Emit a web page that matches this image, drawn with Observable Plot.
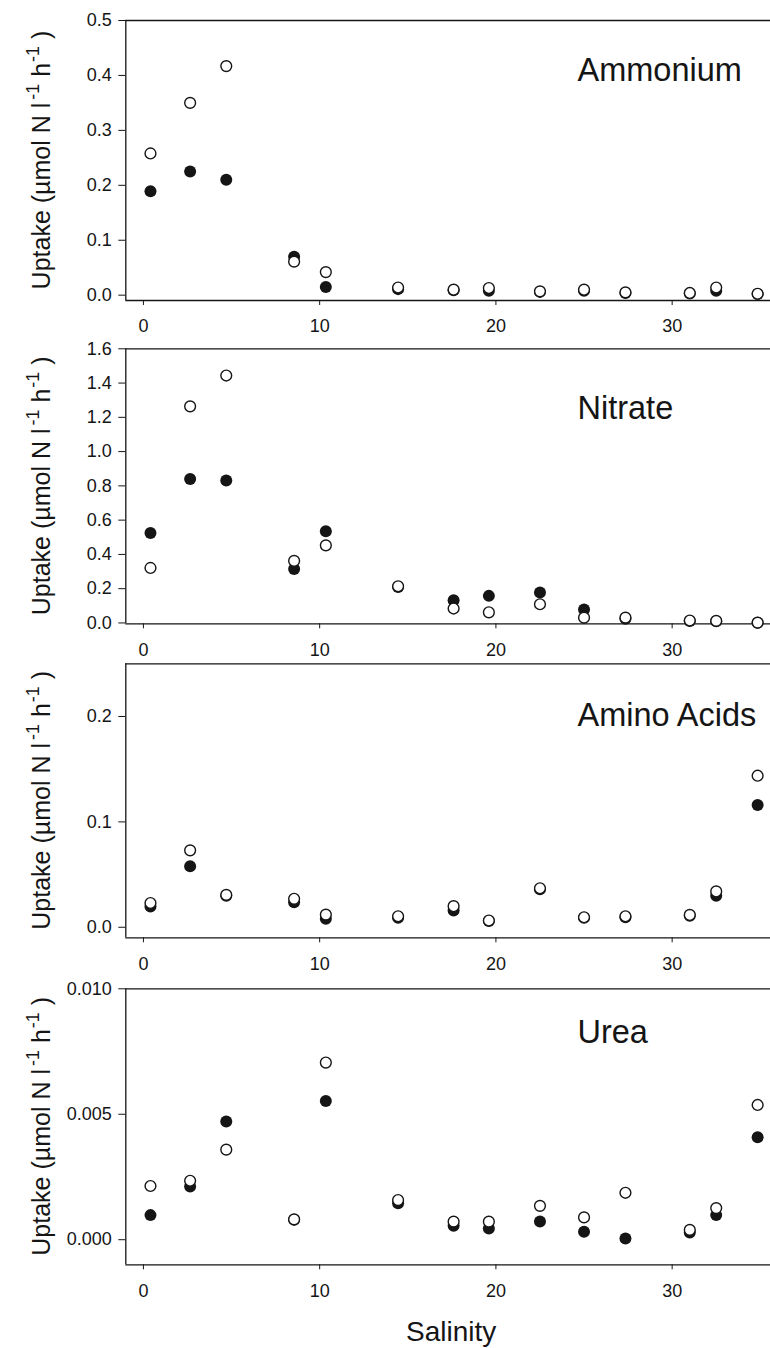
<!DOCTYPE html>
<html>
<head>
<meta charset="utf-8">
<script src="https://cdn.jsdelivr.net/npm/d3@7"></script>
<script src="https://cdn.jsdelivr.net/npm/@observablehq/plot@0.6"></script>
<style>
  body { margin: 0; background: #fff; }
  #chart { width: 770px; height: 1348px; position: relative; overflow: hidden; }
  #chart svg { display: block; }
</style>
</head>
<body>
<div id="chart"></div>
<script>
// ---- data ----
const salinity = [0.4, 2.65, 4.7, 8.55, 10.35, 14.45, 17.6, 19.6, 22.5, 25.0, 27.35, 31.0, 32.5, 34.85];

const ammoniumFilled = [0.189, 0.225, 0.210, 0.070, 0.015, 0.011, 0.009, 0.008, 0.006, 0.008, 0.004, 0.003, 0.008, 0.002];
const ammoniumOpen   = [0.258, 0.350, 0.417, 0.061, 0.042, 0.014, 0.010, 0.013, 0.007, 0.010, 0.005, 0.004, 0.014, 0.0025];

const nitrateFilled = [0.525, 0.840, 0.832, 0.315, 0.535, 0.210, 0.132, 0.158, 0.177, 0.078, 0.025, 0.012, 0.010, 0.001];
const nitrateOpen   = [0.321, 1.264, 1.444, 0.362, 0.453, 0.214, 0.084, 0.062, 0.109, 0.031, 0.031, 0.014, 0.012, 0.002];

const aminoFilled = [0.0196, 0.058, 0.030, 0.0237, 0.008, 0.009, 0.016, 0.006, 0.036, 0.009, 0.0095, 0.011, 0.030, 0.116];
const aminoOpen   = [0.023, 0.073, 0.0307, 0.027, 0.012, 0.0104, 0.020, 0.0064, 0.037, 0.0095, 0.0104, 0.0117, 0.034, 0.1438];

const ureaFilled = [0.00098, 0.00212, 0.00471, 0.0008, 0.00553, 0.00145, 0.00056, 0.00045, 0.00073, 0.00032, 0.00005, 0.00029, 0.00098, 0.00408];
const ureaOpen   = [0.00214, 0.00235, 0.00359, 0.00081, 0.00706, 0.00158, 0.00072, 0.00072, 0.00135, 0.00089, 0.00187, 0.00039, 0.00126, 0.00537];

const panelTitles = ["Ammonium", "Nitrate", "Amino Acids", "Urea"];
const xTicks = [0, 10, 20, 30];
const yTicksAmmonium = [0, 0.1, 0.2, 0.3, 0.4, 0.5];
const yTicksNitrate = [0, 0.2, 0.4, 0.6, 0.8, 1.0, 1.2, 1.4, 1.6];
const yTicksAmino = [0, 0.1, 0.2];
const yTicksUrea = [0, 0.005, 0.010];
const xLabel = "Salinity";

// ---- layout ----
const FONT = "'Liberation Sans', Arial, Helvetica, sans-serif";
const INK = "#151515";
const W = 770;
const xDomain = [-1, 35.58];
const TICK_FONT = 18;

const panels = [
  {title: panelTitles[0], filled: ammoniumFilled, open: ammoniumOpen, yDomain: [-0.0097, 0.5], yTicks: yTicksAmmonium, fmt: ".1f",
   height: 340, mt: 20, mb: 40, titleBase: 61.7},
  {title: panelTitles[1], filled: nitrateFilled, open: nitrateOpen, yDomain: [-0.005, 1.6], yTicks: yTicksNitrate, fmt: ".1f",
   height: 320, mt: 8.3, mb: 36.7, titleBase: 71},
  {title: panelTitles[2], filled: aminoFilled, open: aminoOpen, yDomain: [-0.01, 0.25], yTicks: yTicksAmino, fmt: ".1f",
   height: 320, mt: 3.3, mb: 42.7, titleBase: 62.7},
  {title: panelTitles[3], filled: ureaFilled, open: ureaOpen, yDomain: [-0.001, 0.010], yTicks: yTicksUrea, fmt: ".3f",
   height: 368, mt: 8.3, mb: 83.7, titleBase: 55, last: true}
];

const chart = document.getElementById("chart");

panels.forEach(p => {
  const filledData = salinity.map((s, i) => ({s, v: p.filled[i]}));
  const openData = salinity.map((s, i) => ({s, v: p.open[i]}));
  const titleFont = 32.5;
  const marks = [
    Plot.axisX({ticks: xTicks, tickFormat: "d", tickSize: 5, tickPadding: 14, fontSize: TICK_FONT, label: null, stroke: INK, fill: INK}),
    Plot.axisY({ticks: p.yTicks, tickFormat: p.fmt, tickSize: 7, tickPadding: 7, fontSize: TICK_FONT, label: null, stroke: INK, fill: INK}),
    Plot.ruleY([p.yDomain[1]], {stroke: INK, strokeWidth: 1.3}),
    Plot.ruleY([p.yDomain[0]], {stroke: INK, strokeWidth: 1.3}),
    Plot.ruleX([xDomain[0]], {stroke: INK, strokeWidth: 1.3}),
    Plot.dot(filledData, {x: "s", y: "v", r: 6, fill: INK, stroke: "none"}),
    Plot.dot(openData, {x: "s", y: "v", r: 5.4, fill: "white", stroke: INK, strokeWidth: 1.4}),
    Plot.text([p.title], {frameAnchor: "top-left", dx: 451.7, dy: p.titleBase - 0.35 * titleFont,
      text: d => d, textAnchor: "start", lineAnchor: "middle", fontSize: titleFont, fill: INK})
  ];
  if (p.last) {
    const xlFont = 28;
    marks.push(Plot.text([xLabel], {frameAnchor: "bottom", dx: 3, dy: 1341 - 1264.3 - 0.35 * xlFont,
      text: d => d, textAnchor: "middle", lineAnchor: "middle", fontSize: xlFont, fill: INK}));
  }
  const svg = Plot.plot({
    width: W,
    height: p.height,
    marginLeft: 125.3,
    marginRight: 0,
    marginTop: p.mt,
    marginBottom: p.mb,
    style: {fontSize: TICK_FONT + "px", fontFamily: FONT, color: INK, background: "white", overflow: "visible"},
    x: {domain: xDomain, label: null},
    y: {domain: p.yDomain, label: null},
    marks
  });
  // y-axis label with superscripts
  const cy = (p.mt + p.height - p.mb) / 2;
  const t = d3.select(svg).append("text")
    .attr("transform", `translate(50,${cy}) rotate(-90)`)
    .attr("text-anchor", "middle")
    .attr("fill", INK)
    .style("font-family", FONT)
    .style("font-size", "25px");
  t.append("tspan").text("Uptake (\u00B5mol N l");
  t.append("tspan").attr("dx", 3).attr("dy", -11).style("font-size", "18px").text("-1");
  t.append("tspan").attr("dy", 11).text(" h");
  t.append("tspan").attr("dx", 1).attr("dy", -11).style("font-size", "18px").text("-1");
  t.append("tspan").attr("dy", 11).text(" )");
  chart.appendChild(svg);
});
</script>
</body>
</html>
